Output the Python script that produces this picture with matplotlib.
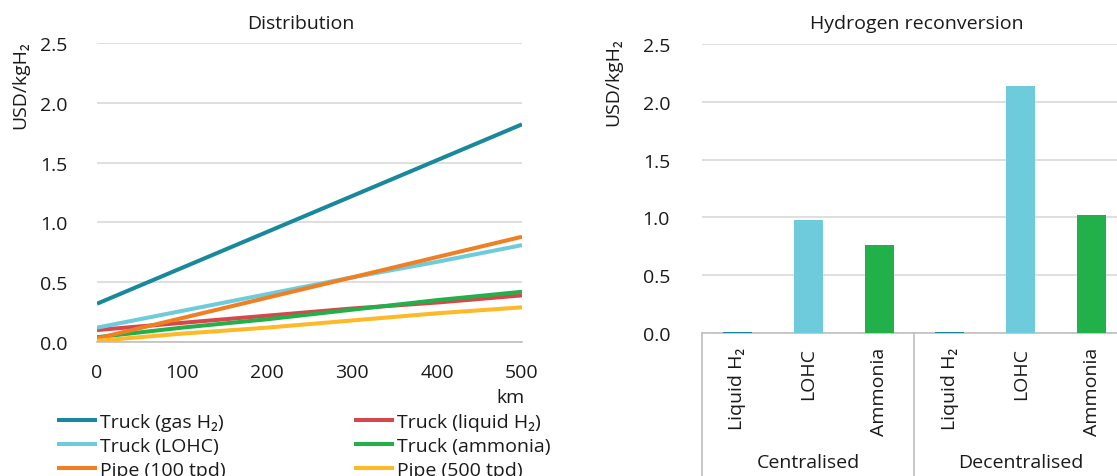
import matplotlib
import matplotlib.pyplot as plt

matplotlib.use("Agg")

plt.rcParams["font.family"] = ["Open Sans", "DejaVu Sans"]
plt.rcParams["font.size"] = 14

# distribution cost by distance
distance_km = [0, 100, 200, 300, 400, 500]
truck_gas_h2 = [0.32, 0.62, 0.92, 1.22, 1.52, 1.82]
truck_liquid_h2 = [0.10, 0.16, 0.22, 0.28, 0.33, 0.39]
truck_lohc = [0.12, 0.26, 0.40, 0.54, 0.67, 0.81]
truck_ammonia = [0.04, 0.12, 0.19, 0.27, 0.35, 0.42]
pipe_100 = [0.03, 0.20, 0.37, 0.54, 0.71, 0.88]
pipe_500 = [0.01, 0.07, 0.12, 0.18, 0.24, 0.29]

line_labels = ["Truck (gas H₂)", "Truck (liquid H₂)", "Truck (LOHC)",
               "Truck (ammonia)", "Pipe (100 tpd)", "Pipe (500 tpd)"]
line_series = [truck_gas_h2, truck_liquid_h2, truck_lohc,
               truck_ammonia, pipe_100, pipe_500]
line_colors = ["#17899a", "#d6474b", "#6dcbdb", "#22b04b", "#f07f23", "#fdb927"]

# reconversion cost
groups = ["Centralised", "Decentralised"]
carriers = ["Liquid H₂", "LOHC", "Ammonia"]
centralised = [0.01, 0.98, 0.76]
decentralised = [0.01, 2.14, 1.02]
bar_colors = ["#17899a", "#6dcbdb", "#22b04b"]

W, H = 1117, 477
fig = plt.figure(figsize=(W / 100, H / 100), dpi=100)

grid_color = "#d9d9d9"
axis_color = "#bfbfbf"
text_color = "#1a1a1a"
yticks = [0, 0.5, 1.0, 1.5, 2.0, 2.5]

# ---- left: distribution ----
ax1 = fig.add_axes([97 / W, (H - 343) / H, 425 / W, 299 / H])
for values, label, color in zip(line_series, line_labels, line_colors):
    ax1.plot(distance_km, values, color=color, lw=2.9, label=label,
             solid_capstyle="butt", zorder=3)
ax1.set_xlim(0, 500)
ax1.set_ylim(0, 2.5)
ax1.set_yticks(yticks)
ax1.set_yticklabels([f"{v:.1f}" for v in yticks])
ax1.set_xticks(distance_km)
ax1.grid(axis="y", color=grid_color, lw=1.2)
ax1.set_axisbelow(True)
for side in ["top", "right", "left"]:
    ax1.spines[side].set_visible(False)
ax1.spines["bottom"].set_color(axis_color)
ax1.spines["bottom"].set_linewidth(1.2)
ax1.tick_params(axis="both", length=0, colors=text_color)
ax1.tick_params(axis="y", pad=21)
ax1.tick_params(axis="x", pad=15)
ax1.text(0.974, -0.184, "km", transform=ax1.transAxes, ha="center",
         va="center", color=text_color)

handles, labels = ax1.get_legend_handles_labels()
order = [0, 2, 4, 1, 3, 5]
fig.legend([handles[i] for i in order], [labels[i] for i in order],
           loc="upper left", bbox_to_anchor=(57 / W, (H - 414) / H),
           ncol=2, frameon=False, borderpad=0, borderaxespad=0,
           handlelength=2.06, handletextpad=0.15, labelspacing=0.3,
           columnspacing=6.6, labelcolor=text_color)

fig.text(301 / W, (H - 24) / H, "Distribution", ha="center", va="center",
         color=text_color)
fig.text(20 / W, (H - 41) / H, "USD/kgH₂", rotation=90, ha="center",
         va="top", color=text_color)

# ---- right: hydrogen reconversion ----
ax2 = fig.add_axes([702 / W, (H - 334) / H, 425 / W, 289 / H])
bar_values = centralised + decentralised
bar_labels = carriers + carriers
positions = list(range(len(bar_values)))
ax2.bar(positions, bar_values, width=0.41, color=bar_colors * 2, zorder=3)
ax2.set_xlim(-0.5, len(bar_values) - 0.5)
ax2.set_ylim(0, 2.5)
ax2.set_yticks(yticks)
ax2.set_yticklabels([f"{v:.1f}" for v in yticks])
ax2.set_xticks(positions)
ax2.set_xticklabels(bar_labels, rotation=90)
ax2.grid(axis="y", color=grid_color, lw=1.2)
ax2.set_axisbelow(True)
for side in ["top", "right", "left"]:
    ax2.spines[side].set_visible(False)
ax2.spines["bottom"].set_color(axis_color)
ax2.spines["bottom"].set_linewidth(1.2)
ax2.tick_params(axis="both", length=0, colors=text_color)
ax2.tick_params(axis="y", pad=23)
ax2.tick_params(axis="x", pad=10)

n = len(carriers)
for k in range(len(groups) + 1):
    ax2.axvline(k * n - 0.5, ymin=-0.5, ymax=0, color=axis_color, lw=1.2,
                clip_on=False)
for k, group in enumerate(groups):
    ax2.text(k * n + (n - 1) / 2, -0.445, group, transform=ax2.get_xaxis_transform(),
             ha="center", va="center", color=text_color)

fig.text(917 / W, (H - 24) / H, "Hydrogen reconversion", ha="center",
         va="center", color=text_color)
fig.text(613 / W, (H - 38) / H, "USD/kgH₂", rotation=90, ha="center",
         va="top", color=text_color)

fig.savefig("out.png", dpi=100)
